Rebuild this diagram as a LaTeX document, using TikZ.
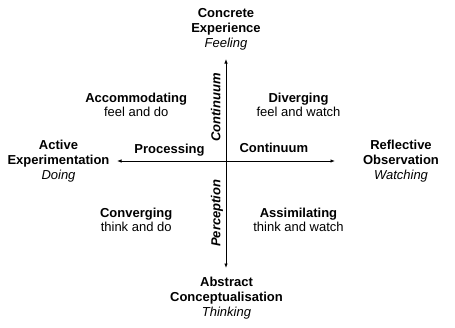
\documentclass[tikz,border=0pt]{standalone}
\usepackage{fontspec}
\setmainfont{Liberation Sans}
\usetikzlibrary{arrows.meta,positioning}

\begin{document}
\begin{tikzpicture}[x=1pt,y=-1pt,>={Latex[length=4.5pt,width=3.5pt]},
    pole/.style={align=center,font=\fontsize{13}{15}\selectfont,inner sep=0pt,anchor=base},
    quad/.style={align=center,font=\fontsize{13}{14}\selectfont,inner sep=0pt,anchor=base},
    axislabel/.style={font=\fontsize{13}{15}\selectfont\bfseries\itshape,inner sep=0pt,anchor=base,rotate=90}]
  \useasboundingbox (0,0) rectangle (455,327);
  % axis ends
  \coordinate (top) at (226,59);
  \coordinate (bottom) at (226,268);
  \coordinate (left) at (117,161);
  \coordinate (right) at (335,161);
  \draw[<->,line width=0.8pt] (bottom) -- (top);
  \draw[<->,line width=0.8pt] (left) -- (right);
  % the four poles (placed at the baseline of the last line)
  \node[pole] (concrete) at (226,47.8) {\textbf{Concrete}\\\textbf{Experience}\\\textit{Feeling}};
  \node[pole] (active) at (58.5,179.6) {\textbf{Active}\\\textbf{Experimentation}\\\textit{Doing}};
  \node[pole] (reflective) at (401,179.6) {\textbf{Reflective}\\\textbf{Observation}\\\textit{Watching}};
  \node[pole] (abstract) at (226.5,316.7) {\textbf{Abstract}\\\textbf{Conceptualisation}\\\textit{Thinking}};
  % learning styles
  \node[quad] (accom) at (136.2,116.7) {\textbf{Accommodating}\\feel and do};
  \node[quad] (diverg) at (298.5,116.7) {\textbf{Diverging}\\feel and watch};
  \node[quad] (converg) at (136.2,231.7) {\textbf{Converging}\\think and do};
  \node[quad] (assim) at (298.5,231.7) {\textbf{Assimilating}\\think and watch};
  % continuum labels
  \node[pole] (processing) at (169.5,153.3) {\textbf{Processing}};
  \node[pole] (continuumh) at (273.8,152.3) {\textbf{Continuum}};
  \node[axislabel] (continuumv) at (220.3,107.5) {Continuum};
  \node[axislabel] (perception) at (220.3,213.3) {Perception};
\end{tikzpicture}
\end{document}
